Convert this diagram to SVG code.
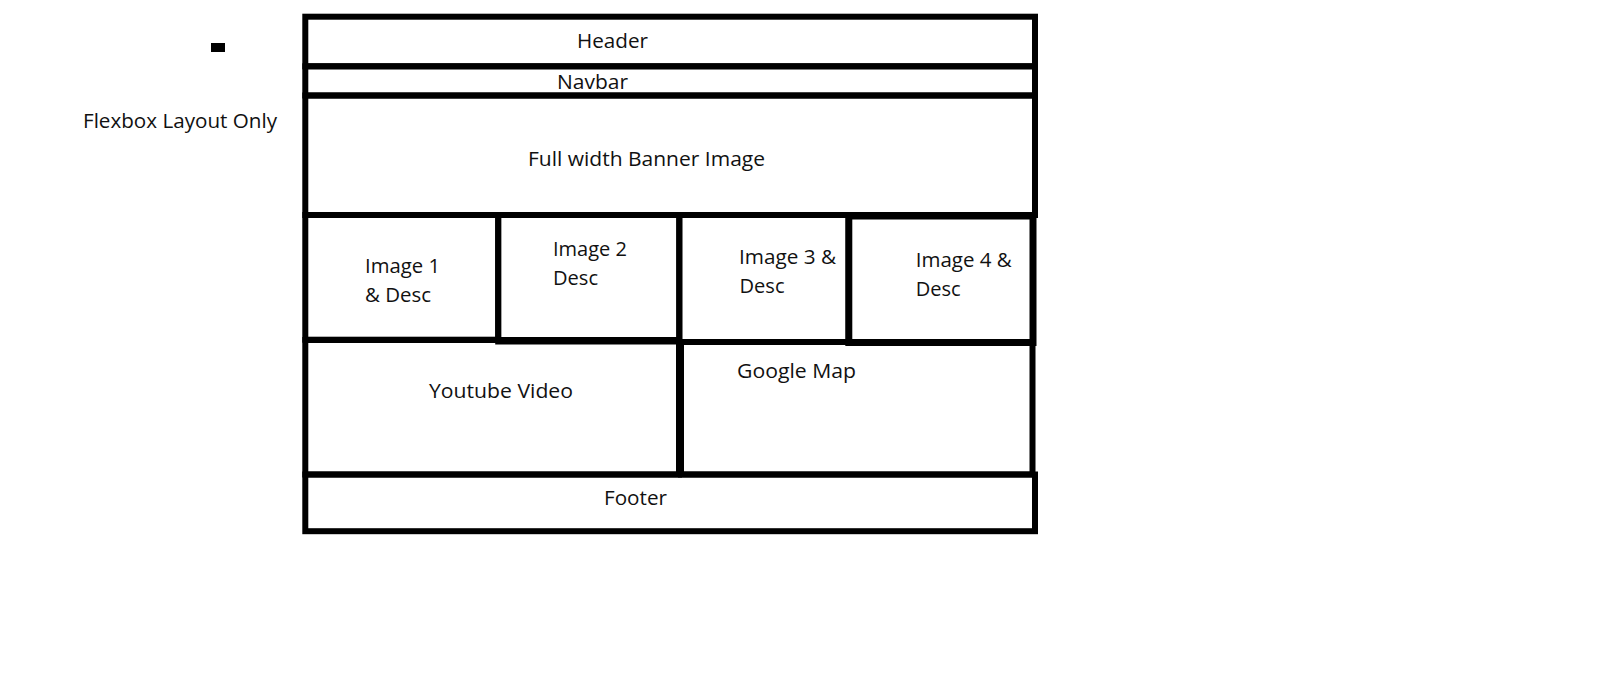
<svg xmlns="http://www.w3.org/2000/svg" width="1600" height="689" viewBox="0 0 1600 689">
<style>
.box{fill:none;stroke:#000;stroke-width:6}
.lbl{font-family:"Open Sans","Noto Sans","DejaVu Sans",sans-serif;font-size:20px;fill:#111}
</style>
<rect width="1600" height="689" fill="#fff"/>
<rect x="211" y="43" width="14" height="9" fill="#000"/>
<text class="lbl" x="83" y="127.5" textLength="194" lengthAdjust="spacingAndGlyphs">Flexbox Layout Only</text>
<g id="header"><rect class="box" x="305.3" y="16.7" width="729.7" height="49.6"/><text class="lbl" x="577" y="47.5" textLength="71" lengthAdjust="spacingAndGlyphs">Header</text></g>
<g id="navbar"><rect class="box" x="305.3" y="66.3" width="729.7" height="29.2"/><text class="lbl" x="557" y="89" textLength="71" lengthAdjust="spacingAndGlyphs">Navbar</text></g>
<g id="banner"><rect class="box" x="305.3" y="95.5" width="729.7" height="119.5"/><text class="lbl" x="528" y="165.5" textLength="237" lengthAdjust="spacingAndGlyphs">Full width Banner Image</text></g>
<g id="image1"><rect class="box" x="305.3" y="215" width="192.9" height="124.7"/><text class="lbl" x="365" y="273.3" textLength="75" lengthAdjust="spacingAndGlyphs">Image 1</text><text class="lbl" x="365" y="301.5" textLength="66" lengthAdjust="spacingAndGlyphs">&amp; Desc</text></g>
<g id="image2"><rect class="box" x="498.2" y="215" width="181.1" height="126.5"/><text class="lbl" x="553" y="256" textLength="74" lengthAdjust="spacingAndGlyphs">Image 2</text><text class="lbl" x="553" y="285" textLength="45" lengthAdjust="spacingAndGlyphs">Desc</text></g>
<g id="image3"><rect class="box" x="679.3" y="215" width="169.5" height="127"/><text class="lbl" x="739" y="264" textLength="97" lengthAdjust="spacingAndGlyphs">Image 3 &amp;</text><text class="lbl" x="739.5" y="292.7" textLength="45" lengthAdjust="spacingAndGlyphs">Desc</text></g>
<g id="image4"><rect class="box" x="848.8" y="216" width="184.2" height="126.5" style="stroke-width:7"/><text class="lbl" x="915.7" y="266.7" textLength="96" lengthAdjust="spacingAndGlyphs">Image 4 &amp;</text><text class="lbl" x="915.7" y="296" textLength="45" lengthAdjust="spacingAndGlyphs">Desc</text></g>
<g id="youtube"><rect class="box" x="305.3" y="340" width="373.7" height="134.5"/><text class="lbl" x="429" y="398" textLength="144" lengthAdjust="spacingAndGlyphs">Youtube Video</text></g>
<g id="googlemap"><rect class="box" x="681" y="342" width="351.5" height="132.5"/><text class="lbl" x="737" y="377.7" textLength="119" lengthAdjust="spacingAndGlyphs">Google Map</text></g>
<g id="footer"><rect class="box" x="305.3" y="474.5" width="729.7" height="56.7"/><text class="lbl" x="604" y="505" textLength="63" lengthAdjust="spacingAndGlyphs">Footer</text></g>
<g id="connectors"></g>
</svg>
